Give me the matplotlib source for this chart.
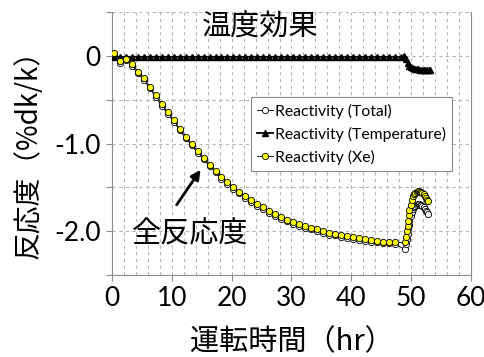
import matplotlib
matplotlib.use("Agg")
import matplotlib.pyplot as plt

plt.rcParams['font.family'] = ['Lato', 'Noto Sans CJK JP', 'DejaVu Sans']
jp = ['Noto Sans CJK JP', 'DejaVu Sans']

# Xe / total reactivity, hourly during operation then dense after shutdown
time_main = [0.3, 1.3, 2.3, 3.3, 4.3, 5.3, 6.3, 7.3, 8.3, 9.3,
             10.3, 11.3, 12.3, 13.3, 14.3, 15.3, 16.3, 17.3, 18.3, 19.3,
             20.3, 21.3, 22.3, 23.3, 24.3, 25.3, 26.3, 27.3, 28.3, 29.3,
             30.3, 31.3, 32.3, 33.3, 34.3, 35.3, 36.3, 37.3, 38.3, 39.3,
             40.3, 41.3, 42.3, 43.3, 44.3, 45.3, 46.3, 47.3]
time_after = [49.0, 49.2, 49.3, 49.4, 49.5, 49.6, 49.7, 49.9, 50.1, 50.3,
              50.5, 50.7, 50.9, 51.1, 51.3, 51.5, 51.7, 51.9, 52.1, 52.3,
              52.5, 52.7, 52.9]

xe_main = [0.03, -0.06, -0.03, -0.09, -0.18, -0.25, -0.35, -0.45, -0.55, -0.64,
           -0.73, -0.83, -0.92, -1.00, -1.09, -1.16, -1.24, -1.31, -1.38, -1.44,
           -1.50, -1.55, -1.60, -1.65, -1.69, -1.73, -1.77, -1.81, -1.84, -1.87,
           -1.90, -1.92, -1.94, -1.96, -1.98, -2.00, -2.02, -2.03, -2.05, -2.06,
           -2.07, -2.08, -2.09, -2.10, -2.11, -2.12, -2.12, -2.13]
xe_after = [-2.13, -2.07, -2.00, -1.94, -1.88, -1.82, -1.76, -1.70, -1.64, -1.60,
            -1.575, -1.56, -1.55, -1.545, -1.545, -1.55, -1.555, -1.565, -1.58, -1.60,
            -1.62, -1.64, -1.66]

total_main = [0.02, -0.08, -0.05, -0.11, -0.20, -0.27, -0.37, -0.47, -0.57, -0.66,
              -0.75, -0.85, -0.94, -1.02, -1.11, -1.18, -1.26, -1.33, -1.40, -1.46,
              -1.52, -1.57, -1.62, -1.67, -1.71, -1.75, -1.79, -1.83, -1.86, -1.89,
              -1.92, -1.94, -1.96, -1.98, -2.00, -2.02, -2.04, -2.05, -2.07, -2.08,
              -2.09, -2.10, -2.11, -2.12, -2.13, -2.14, -2.14, -2.15]
total_after = [-2.21, -2.15, -2.09, -2.03, -1.98, -1.93, -1.88, -1.83, -1.78, -1.75,
               -1.725, -1.71, -1.70, -1.695, -1.695, -1.70, -1.705, -1.715, -1.73, -1.75,
               -1.765, -1.78, -1.80]

# temperature effect: hourly, then denser after shutdown
temp_main = [-0.01, -0.01, -0.01, -0.01, -0.01, -0.01, -0.01, -0.01, -0.01, -0.01,
             -0.01, -0.01, -0.01, -0.01, -0.01, -0.01, -0.01, -0.01, -0.01, -0.01,
             -0.01, -0.01, -0.01, -0.01, -0.01, -0.01, -0.01, -0.01, -0.01, -0.01,
             -0.01, -0.01, -0.01, -0.01, -0.01, -0.01, -0.01, -0.01, -0.01, -0.01,
             -0.01, -0.01, -0.01, -0.01, -0.01, -0.01, -0.01, -0.01]
temp_time_after = [48.3, 48.8, 49.1, 49.4, 49.7, 50.0, 50.3, 50.6, 50.9, 51.2,
                   51.5, 51.8, 52.1, 52.4, 52.7, 53.0, 53.2]
temp_after = [-0.01, 0.0, -0.04, -0.08, -0.11, -0.13, -0.14, -0.15, -0.15, -0.15,
              -0.155, -0.155, -0.16, -0.16, -0.16, -0.16, -0.16]

y_ticks = [0.5, 0.0, -0.5, -1.0, -1.5, -2.0, -2.5]
y_ticklabels = ['', '0', '', '-1.0', '', '-2.0', '']
x_ticks = [0, 10, 20, 30, 40, 50, 60]

fig = plt.figure(figsize=(4.85, 3.57), dpi=100)
ax = fig.add_axes([0.231, 0.23, 0.74, 0.736])

ax.plot(time_main + time_after, total_main + total_after, color="black", lw=0.6,
        marker="o", ms=4.5, mfc="white", mec="black", mew=0.6,
        label="Reactivity (Total)", zorder=3)
ax.plot(time_main + temp_time_after, temp_main + temp_after, color="black", lw=1.3,
        marker="^", ms=5, mfc="black", mec="black",
        label="Reactivity (Temperature)", zorder=3)
ax.plot(time_main + time_after, xe_main + xe_after, color="black", lw=0.6,
        marker="o", ms=4.5, mfc="#ffff00", mec="black", mew=0.6,
        label="Reactivity (Xe)", zorder=4)

ax.set_xlim(0, 60)
ax.set_ylim(-2.5, 0.5)
ax.set_xticks(x_ticks)
ax.set_xticks(range(0, 61, 2), minor=True)
ax.set_yticks(y_ticks)
ax.set_yticklabels(y_ticklabels)
ax.tick_params(axis='both', which='major', labelsize=19, length=4,
               color="#8c8c8c", pad=4)
ax.tick_params(axis='x', which='minor', length=0)
ax.grid(True, which='both', axis='x', ls=(0, (3, 3)), color="#b4b4b4", lw=0.8)
ax.grid(True, which='major', axis='y', ls=(0, (3, 3)), color="#b4b4b4", lw=0.8)
ax.set_axisbelow(True)
for side in ['left', 'right', 'bottom']:
    ax.spines[side].set_color("#8c8c8c")
ax.spines['top'].set_visible(False)

ax.set_xlabel("運転時間（hr）", family=jp, fontsize=21)
ax.xaxis.set_label_coords(0.5, -0.255)
ax.xaxis.label.set_va("center")
ax.set_ylabel("反応度（%dk/k）", family=jp, fontsize=20)
ax.yaxis.set_label_coords(-0.19, 0.485)

ax.text(24.7, 0.32, "温度効果", family=jp, fontsize=21, ha="center", va="center")
ax.text(13.0, -2.04, "全反応度", family=jp, fontsize=21, ha="center", va="center")
ax.annotate("", xy=(14.8, -1.30), xytext=(10.8, -1.70),
            arrowprops=dict(arrowstyle="-|>", color="black", lw=2,
                            mutation_scale=14, shrinkA=0, shrinkB=0))

leg = ax.legend(loc="upper right", bbox_to_anchor=(0.969, 0.705), fontsize=11.3,
                handlelength=1.0, handletextpad=0.1, labelspacing=0.5,
                borderpad=0.4, fancybox=False, framealpha=1, edgecolor="#8c8c8c")
leg.get_frame().set_linewidth(0.8)

fig.savefig("out.png", dpi=100)
